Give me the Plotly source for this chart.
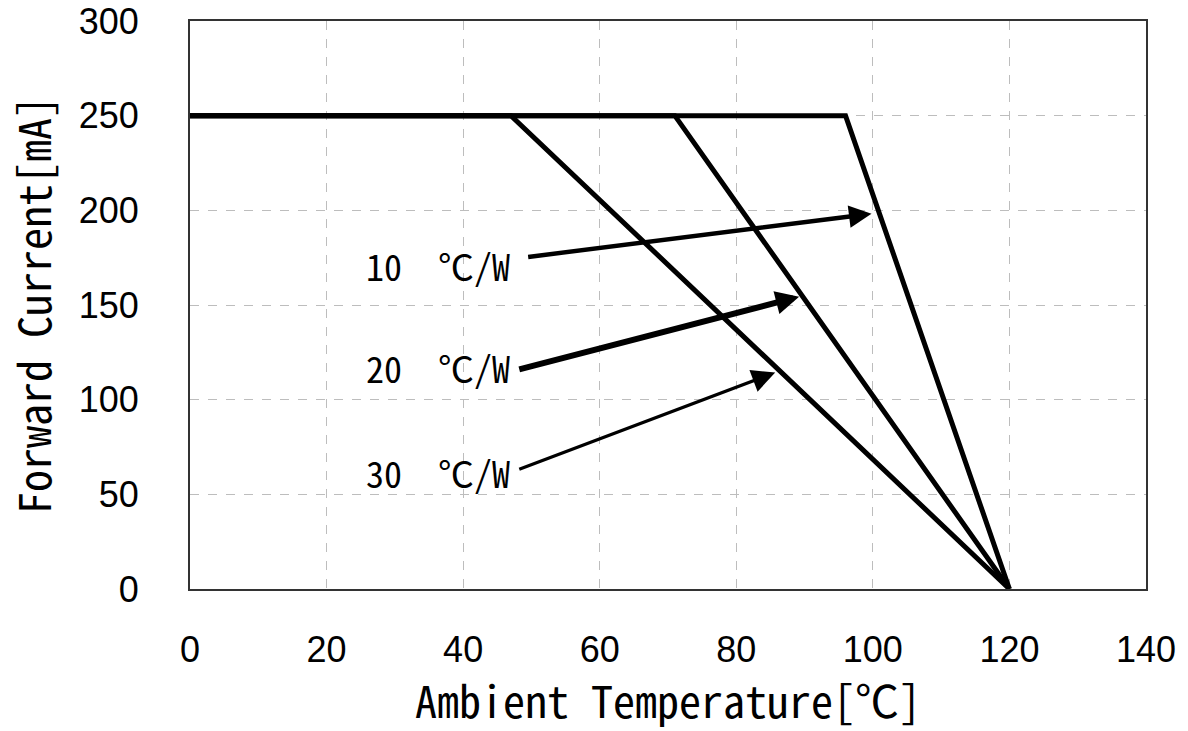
import plotly.graph_objects as go

# Data
rth_labels = ["10\u00a0\u00a0℃/W", "20\u00a0\u00a0℃/W", "30\u00a0\u00a0℃/W"]
knee_temp = [96, 71, 47]          # ambient temp where derating starts
max_current = [250, 250, 250]     # mA
end_temp = [120, 120, 120]        # temp where current reaches 0
label_pos_x = [47.1, 47.1, 47.1]
label_pos_y = [171, 117, 62]
arrow_tail_x = [49.3, 48.0, 48.0]
arrow_tail_y = [175.3, 115.8, 63.0]
arrow_head_x = [99.8, 89.2, 85.7]
arrow_head_y = [198.2, 154.4, 114.3]
arrow_widths = [4.5, 6, 3.2]
arrow_sizes = [1.0, 0.78, 1.45]

x_ticks = [0, 20, 40, 60, 80, 100, 120, 140]
y_ticks = [0, 50, 100, 150, 200, 250, 300]

MONO = "Noto Sans Mono CJK KR, DejaVu Sans Mono, monospace"
SANS = "Liberation Sans, Arial, sans-serif"

fig = go.Figure()
for k, m, e in zip(knee_temp, max_current, end_temp):
    fig.add_trace(go.Scatter(
        x=[0, k, e], y=[m, m, 0], mode="lines",
        line=dict(color="black", width=5), showlegend=False,
        hoverinfo="skip"))

for i, lab in enumerate(rth_labels):
    fig.add_annotation(x=label_pos_x[i], y=label_pos_y[i], text=lab,
                       showarrow=False, xanchor="right", yanchor="middle",
                       font=dict(family=MONO, size=36, color="black"))
    fig.add_annotation(x=arrow_head_x[i], y=arrow_head_y[i],
                       ax=arrow_tail_x[i], ay=arrow_tail_y[i],
                       axref="x", ayref="y", xref="x", yref="y",
                       text="", showarrow=True, arrowhead=2,
                       arrowwidth=arrow_widths[i], arrowsize=arrow_sizes[i],
                       arrowcolor="black", standoff=0, startstandoff=0)

fig.update_layout(
    width=1188, height=731,
    margin=dict(l=190, r=42, t=21, b=142),
    paper_bgcolor="white", plot_bgcolor="white",
    showlegend=False,
)
fig.update_xaxes(
    range=[0, 140], tickvals=x_ticks, ticktext=[str(v) for v in x_ticks],
    showgrid=True, gridcolor="#bdbdbd", griddash="dash", gridwidth=1,
    showline=True, linecolor="#333333", linewidth=2, mirror=True,
    ticks="", zeroline=False, ticklabelstandoff=28, automargin=False,
    tickfont=dict(family=SANS, size=36, color="black"),
    title=dict(text="Ambient Temperature[℃]", standoff=18,
               font=dict(family=MONO, size=44, color="black")),
)
fig.update_yaxes(
    range=[0, 300], tickvals=y_ticks, ticktext=[str(v) for v in y_ticks],
    showgrid=True, gridcolor="#bdbdbd", griddash="dash", gridwidth=1,
    showline=True, linecolor="#333333", linewidth=2, mirror=True,
    ticks="", zeroline=False, ticklabelstandoff=42, automargin=False,
    tickfont=dict(family=SANS, size=36, color="black"),
    title=dict(text="Forward Current[mA]", standoff=38,
               font=dict(family=MONO, size=44, color="black")),
)

fig.write_html("out.html")
